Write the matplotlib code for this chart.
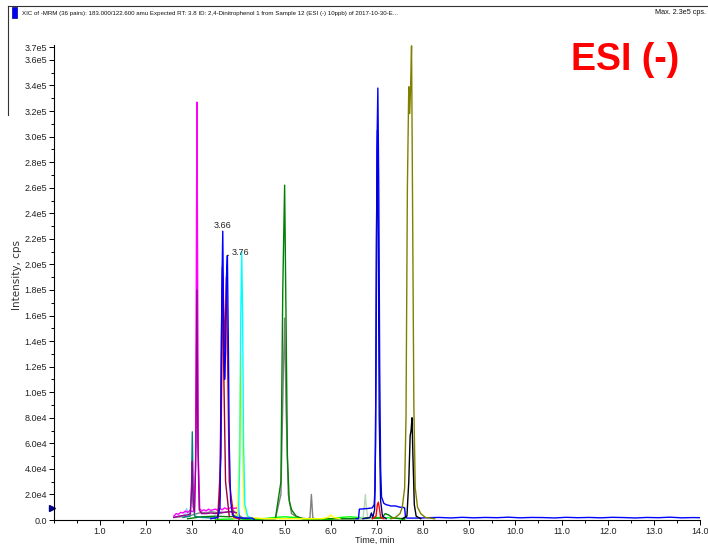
import matplotlib
matplotlib.use("Agg")
import matplotlib.pyplot as plt
import matplotlib.ticker as mticker
from matplotlib.lines import Line2D
from matplotlib.patches import Rectangle

plt.rcParams['font.family'] = ['Liberation Sans Narrow', 'Liberation Sans', 'DejaVu Sans']

# --- data (time in min, intensity in cps) ---
magenta_t = [2.60, 2.65, 2.70, 2.75, 2.80, 2.85, 2.90, 2.95, 3.00, 3.04, 3.07, 3.09, 3.10, 3.11,
             3.13, 3.16, 3.20, 3.25, 3.30, 3.35, 3.40, 3.45, 3.50, 3.55, 3.60, 3.65, 3.70, 3.75,
             3.80, 3.85, 3.90, 3.95, 4.00, 4.02]
magenta_i = [3e3, 5e3, 4.5e3, 6e3, 5.5e3, 7e3, 6e3, 7.5e3, 6.5e3, 8e3, 4e4, 2.2e5, 3.27e5, 2.4e5,
             5e4, 9e3, 7e3, 8e3, 7e3, 8.5e3, 7.5e3, 8e3, 8.5e3, 7.5e3, 9e3, 8e3, 9.5e3, 8.5e3,
             9e3, 10e3, 9e3, 9.5e3, 9e3, 0]

purple_t = [2.60, 2.70, 2.80, 2.90, 2.96, 2.99, 3.00, 3.02, 3.05, 3.08, 3.10, 3.12, 3.15, 3.20,
            3.30, 3.40, 3.50, 3.60, 3.70, 3.80, 3.90, 4.00, 4.02]
purple_i = [2e3, 3e3, 3.5e3, 4e3, 5e3, 3e4, 4.6e4, 1e4, 6e3, 6e4, 1.8e5, 6e4, 8e3, 5e3,
            5e3, 5.5e3, 5e3, 6e3, 6e3, 6.5e3, 6e3, 5.5e3, 0]

teal_t = [2.80, 2.95, 2.98, 3.00, 3.02, 3.05, 3.20, 3.50]
teal_i = [2e3, 3e3, 2e4, 6.9e4, 1.5e4, 3e3, 2e3, 1.5e3]

lightblue_t = [2.80, 2.85, 2.88, 2.91, 2.95]
lightblue_i = [3e3, 5e3, 9e3, 4e3, 3e3]

gray_t = [2.60, 2.90, 3.10, 3.20, 3.30, 3.40, 3.50, 3.60, 3.70, 3.80, 3.90, 4.00, 4.10, 4.40,
          4.80, 4.92, 4.97, 5.00, 5.03, 5.08, 5.15, 5.30, 5.50, 5.55, 5.58, 5.61, 5.65, 6.00, 6.50]
gray_i = [2e3, 3e3, 5e3, 6e3, 5.5e3, 6.5e3, 6e3, 5e3, 6e3, 6.5e3, 7e3, 4e3, 1.5e3, 1e3,
          1e3, 2e4, 1.1e5, 1.58e5, 9e4, 2e4, 5e3, 1.5e3, 1e3, 2e3, 2e4, 2e3, 1e3, 1e3, 1e3]

green_t = [2.90, 3.20, 3.50, 3.80, 3.95, 4.00, 4.10, 4.80, 4.92, 4.96, 5.00, 5.03, 5.06, 5.10,
           5.15, 5.25, 5.40, 6.50, 7.10, 7.18, 7.25, 7.35, 7.60]
green_i = [1e3, 2.5e3, 3e3, 2.5e3, 3e3, 2e3, 1e3, 1e3, 3e4, 1.8e5, 2.62e5, 1.6e5, 5e4, 1.5e4,
           8e3, 3e3, 1e3, 1e3, 1.5e3, 5e3, 4e3, 1.5e3, 1e3]

lime_t = [3.50, 3.90, 3.95, 4.00, 4.40, 4.80, 5.00, 5.20, 5.40, 6.00, 6.20, 6.40, 6.60, 6.80,
          7.00, 7.40, 7.60]
lime_i = [5e2, 8e2, 4e3, 8e2, 5e2, 2e3, 2.5e3, 2e3, 8e2, 5e2, 2e3, 2.5e3, 2e3, 1.5e3,
          2e3, 1.5e3, 5e2]

blue_t = [3.40, 3.55, 3.60, 3.62, 3.64, 3.66, 3.68, 3.70, 3.72, 3.74, 3.76, 3.78, 3.80, 3.83,
          3.87, 3.95, 4.10, 4.30, 4.35]
blue_i = [1e3, 2e3, 1e4, 8e4, 1.8e5, 2.26e5, 1.5e5, 1.1e5, 1.3e5, 1.9e5, 2.07e5, 1.4e5, 6e4, 1.5e4,
          4e3, 2e3, 1.5e3, 1.5e3, 0]

red_t = [3.55, 3.62, 3.66, 3.70, 3.74, 3.80, 3.90, 4.00]
red_i = [1e3, 5e4, 1.9e5, 1.34e5, 1.9e5, 3e4, 2e3, 1e3]

maroon_t = [3.55, 3.60, 3.63, 3.65, 3.68, 3.72, 3.80]
maroon_i = [2e3, 2e4, 1.4e5, 1.98e5, 1.2e5, 3e4, 3e3]

yellow_t = [3.90, 3.98, 4.02, 4.05, 4.08, 4.12, 4.20, 4.40, 4.60, 5.00, 5.50, 5.80, 5.95, 6.00,
            6.05, 6.20]
yellow_i = [1e3, 5e3, 6e4, 1.3e5, 6e4, 1e4, 2e3, 1.5e3, 1e3, 1e3, 1e3, 1e3, 2e3, 4e3,
            2e3, 1e3]

cyan_t = [3.95, 4.00, 4.03, 4.05, 4.07, 4.09, 4.11, 4.14, 4.20, 4.30]
cyan_i = [1e3, 3e3, 5e4, 1.6e5, 2.1e5, 1.6e5, 6e4, 1.2e4, 3e3, 1e3]

palegreen_t = [6.60, 6.70, 6.73, 6.75, 6.77, 6.80, 6.90]
palegreen_i = [1e3, 2e3, 1.2e4, 2e4, 1e4, 2e3, 1e3]

blue2_t = [6.55, 6.60, 6.62, 6.70, 6.80, 6.90, 6.94, 6.96, 6.98, 7.00, 7.02, 7.04, 7.06, 7.08,
           7.10, 7.15, 7.20, 7.30, 7.40, 7.50, 7.55, 7.60, 7.62, 7.65, 7.90, 8.10, 8.35, 8.60,
           8.85, 9.10, 9.35, 9.60, 9.85, 10.10, 10.35, 10.60, 10.85, 11.10, 11.35, 11.60, 11.85,
           12.10, 12.35, 12.60, 12.85, 13.10, 13.35, 13.60, 13.85, 14.00]
blue2_i = [1e3, 1e3, 8.5e3, 8.7e3, 9e3, 9.5e3, 1.2e4, 2.5e4, 1.2e5, 2.9e5, 3.38e5, 2.6e5, 1.2e5,
           4e4, 1.8e4, 1.3e4, 1.2e4, 1.1e4, 1.1e4, 1e4, 1e4, 9.5e3, 2e3, 1.5e3, 1.5e3, 1.8e3,
           2e3, 1.6e3, 2.1e3, 1.7e3, 2e3, 1.8e3, 2.2e3, 1.7e3, 2e3, 1.9e3, 1.6e3, 2.1e3, 1.8e3,
           2e3, 1.7e3, 2.1e3, 1.9e3, 1.6e3, 2e3, 1.8e3, 2.2e3, 1.7e3, 1.9e3, 1.8e3]

navy_t = [6.70, 6.85, 6.88, 6.91, 6.95, 6.97, 6.99, 7.01, 7.03, 7.05, 7.08, 7.12, 7.20]
navy_i = [1e3, 2e3, 5.5e3, 2e3, 8e3, 6e4, 2.2e5, 3.05e5, 2.2e5, 8e4, 1.5e4, 3e3, 1e3]

red2_t = [6.90, 6.98, 7.01, 7.03, 7.05, 7.08, 7.15]
red2_i = [1e3, 3e3, 1.2e4, 1.4e4, 1e4, 2e3, 1e3]

olive_t = [7.30, 7.40, 7.50, 7.55, 7.60, 7.63, 7.66, 7.69, 7.71, 7.73, 7.75, 7.77, 7.80, 7.83,
           7.88, 7.95, 8.05, 8.25]
olive_i = [1e3, 2e3, 5e3, 1e4, 2.5e4, 8e4, 2.6e5, 3.39e5, 3.18e5, 3.4e5, 3.71e5, 2.6e5, 9e4, 2.5e4,
           1e4, 5e3, 2e3, 1e3]

black_t = [7.55, 7.65, 7.69, 7.72, 7.74, 7.76, 7.78, 7.81, 7.85, 7.95]
black_i = [1e3, 3e3, 3e4, 6.6e4, 7e4, 8e4, 5e4, 1.2e4, 3e3, 1e3]

xtick_values = [1.0, 2.0, 3.0, 4.0, 5.0, 6.0, 7.0, 8.0, 9.0, 10.0, 11.0, 12.0, 13.0, 14.0]
xtick_labels = ['1.0', '2.0', '3.0', '4.0', '5.0', '6.0', '7.0', '8.0', '9.0', '10.0',
                '11.0', '12.0', '13.0', '14.0']
ytick_values = [0, 2e4, 4e4, 6e4, 8e4, 1e5, 1.2e5, 1.4e5, 1.6e5, 1.8e5, 2.0e5, 2.2e5, 2.4e5,
                2.6e5, 2.8e5, 3.0e5, 3.2e5, 3.4e5, 3.6e5, 3.7e5]
ytick_labels = ['0.0', '2.0e4', '4.0e4', '6.0e4', '8.0e4', '1.0e5', '1.2e5', '1.4e5', '1.6e5',
                '1.8e5', '2.0e5', '2.2e5', '2.4e5', '2.6e5', '2.8e5', '3.0e5', '3.2e5', '3.4e5',
                '3.6e5', '3.7e5']

traces = [
    (gray_t, gray_i, '#808080'),
    (lime_t, lime_i, '#00ff00'),
    (green_t, green_i, '#008000'),
    (lightblue_t, lightblue_i, '#99ccff'),
    (magenta_t, magenta_i, '#ff00ff'),
    (teal_t, teal_i, '#008080'),
    (purple_t, purple_i, '#990099'),
    (yellow_t, yellow_i, '#ffff00'),
    (cyan_t, cyan_i, '#00ffff'),
    (red_t, red_i, '#ff0000'),
    (maroon_t, maroon_i, '#990033'),
    (blue_t, blue_i, '#0000ff'),
    (palegreen_t, palegreen_i, '#b8d8b8'),
    (navy_t, navy_i, '#000080'),
    (blue2_t, blue2_i, '#0000ff'),
    (red2_t, red2_i, '#ff0000'),
    (olive_t, olive_i, '#808000'),
    (black_t, black_i, '#000000'),
]

W, H = 708, 544
fig = plt.figure(figsize=(W / 100, H / 100), dpi=100)
ax = fig.add_axes([53.85 / W, 24 / H, (700 - 53.85) / W, (520 - 44.6) / H])

for t, i, c in traces:
    ax.plot(t, i, color=c, lw=1.0, solid_joinstyle='round')

ax.set_xlim(0, 14.0)
ax.set_ylim(0, 3.72e5)
for s in ['top', 'right']:
    ax.spines[s].set_visible(False)
for s in ['left', 'bottom']:
    ax.spines[s].set_linewidth(0.8)

ax.set_xticks(xtick_values)
ax.set_xticklabels(xtick_labels)
ax.set_yticks(ytick_values)
ax.set_yticklabels(ytick_labels)
ax.xaxis.set_minor_locator(mticker.MultipleLocator(0.5))
ax.yaxis.set_minor_locator(mticker.MultipleLocator(1e4))
ax.tick_params(which='major', length=3.5, width=0.7, labelsize=6.5, labelcolor='#222222', pad=1.5)
ax.tick_params(which='minor', length=2.5, width=0.7)

# peak labels
ax.annotate('3.66', xy=(3.66, 2.26e5), xytext=(0, 1), textcoords='offset points',
            ha='center', va='bottom', fontsize=6.5, color='#222222')
ax.annotate('3.76', xy=(3.76, 2.07e5), xytext=(3, 2), textcoords='offset points',
            ha='left', va='center', fontsize=6.5, color='#222222',
            arrowprops=dict(arrowstyle='-', color='#222222', lw=0.6, shrinkA=0, shrinkB=0))

# marker on y axis
ax.plot([-0.05], [9.5e3], marker='>', color='#000080', markersize=5, clip_on=False)

fig.text(17 / W, 1 - 275 / H, 'Intensity, cps', rotation=90, ha='center', va='center',
         fontsize=7.5, family=['DejaVu Sans'], color='#333333')
fig.text(375 / W, 1 - 540 / H, 'Time, min', ha='center', va='center', fontsize=6.5,
         color='#222222')
fig.text(625 / W, 1 - 60 / H, 'ESI (-)', ha='center', va='center', fontsize=27,
         fontweight='bold', color='#ff0000', family=['Liberation Sans', 'DejaVu Sans'])

# header strip
fig.add_artist(Line2D([8 / W, 1], [1 - 6 / H, 1 - 6 / H], color='#333333', lw=0.8))
fig.add_artist(Line2D([8 / W, 8 / W], [1 - 6 / H, 1 - 115 / H], color='#333333', lw=0.8))
fig.add_artist(Rectangle((12 / W, 1 - 18 / H), 5 / W, 11 / H, facecolor='#0000ff',
                         edgecolor='#000080', lw=0.5))
fig.text(22 / W, 1 - 13 / H,
         'XIC of -MRM (36 pairs): 183.000/122.600 amu Expected RT: 3.8 ID: 2,4-Dinitrophenol 1 '
         'from Sample 12 (ESI (-) 10ppb) of 2017-10-30-E...',
         ha='left', va='center', fontsize=4.4, color='#111111')
fig.text(655 / W, 1 - 13 / H, 'Max. 2.3e5 cps.', ha='left', va='center', fontsize=5.2,
         color='#111111')

fig.savefig('out.png', dpi=100)
